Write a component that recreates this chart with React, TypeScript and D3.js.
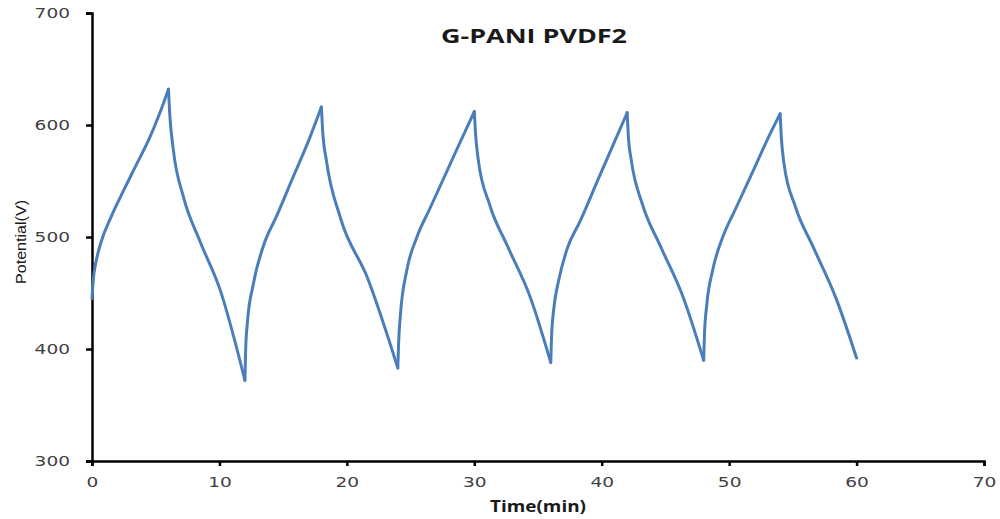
import React, { useRef, useEffect } from 'react';
import * as d3 from 'd3';

// charge / discharge curve, one array per half cycle
const charge1 = [[0, 445], [0.1, 462], [0.3, 477], [0.7, 495], [1.5, 518], [2.5, 542], [3.5, 565], [4.5, 588], [5.3, 610], [6.0, 632]];
const discharge1 = [[6.0, 632], [6.1, 610], [6.38, 578], [7.17, 536], [8.48, 496], [10.05, 453], [12.0, 372]];
const charge2 = [[12.0, 372], [12.06, 400], [12.19, 423], [12.66, 458], [13.45, 492], [14.5, 519], [15.8, 554], [17.0, 586], [18.0, 616]];
const discharge2 = [[18.0, 616], [18.1, 595], [18.4, 568], [19.5, 517], [21.6, 464], [24.0, 383]];
const charge3 = [[24.0, 383], [24.06, 405], [24.2, 430], [24.7, 470], [25.5, 500], [26.5, 525], [27.5, 550], [28.5, 575], [30.0, 612]];
const discharge3 = [[30.0, 612], [30.1, 592], [30.3, 570], [31.2, 529], [32.6, 492], [34.4, 446], [36.0, 388]];
const charge4 = [[36.0, 388], [36.06, 410], [36.25, 437], [36.6, 460], [37.3, 490], [38.3, 514], [39.7, 551], [41.0, 585], [42.0, 611]];
const discharge4 = [[42.0, 611], [42.1, 588], [42.3, 570], [43.2, 529], [44.6, 492], [46.4, 446], [48.0, 390]];
const charge5 = [[48.0, 390], [48.06, 412], [48.25, 440], [48.7, 470], [49.5, 500], [50.5, 525], [52.0, 562], [53.0, 587], [54.0, 610]];
const discharge5 = [[54.0, 610], [54.1, 588], [54.3, 566], [55.2, 527], [56.6, 491], [58.4, 445], [60.0, 392]];

const segments = [charge1, discharge1, charge2, discharge2, charge3, discharge3, charge4, discharge4, charge5, discharge5];

const xTicks = [0, 10, 20, 30, 40, 50, 60, 70];
const yTicks = [300, 400, 500, 600, 700];

const App: React.FC = () => {
    const svgRef = useRef<SVGSVGElement | null>(null);

    useEffect(() => {
        if (!svgRef.current) return;
        const width = 1000;
        const height = 519;

        const svg = d3.select(svgRef.current)
            .attr('width', width)
            .attr('height', height);
        svg.selectAll('*').remove();

        const x = d3.scaleLinear().domain([0, 70]).range([92, 984]);
        const y = d3.scaleLinear().domain([300, 700]).range([461, 13]);

        const tickFont = '"DejaVu Sans", Verdana, sans-serif';

        // the picture is stretched sideways, so labels get a fixed width per character
        const styleTicks = (sel: d3.Selection<d3.BaseType, unknown, SVGGElement, unknown>) => {
            sel.attr('fill', '#404040')
                .style('font-family', tickFont)
                .style('font-size', '14.5px')
                .each(function () {
                    const t = d3.select(this);
                    const n = (t.text() || '').length;
                    t.attr('textLength', n * 11.8).attr('lengthAdjust', 'spacingAndGlyphs');
                });
        };

        // y axis
        const yAxis = svg.append('g')
            .attr('transform', `translate(${x(0)},0)`)
            .call(d3.axisLeft(y).tickValues(yTicks).tickSize(6).tickPadding(16).tickFormat(d => String(d)));
        yAxis.select('.domain').attr('stroke', '#000').attr('stroke-width', 2.5);
        yAxis.selectAll('.tick line').attr('stroke', '#000').attr('stroke-width', 2.5);
        styleTicks(yAxis.selectAll('text'));

        // x axis
        const xAxis = svg.append('g')
            .attr('transform', `translate(0,${y(300)})`)
            .call(d3.axisBottom(x).tickValues(xTicks).tickSize(5).tickPadding(11).tickFormat(d => String(d)));
        xAxis.select('.domain').attr('stroke', '#000').attr('stroke-width', 2.5);
        xAxis.selectAll('.tick line').attr('stroke', '#000').attr('stroke-width', 2.5);
        styleTicks(xAxis.selectAll('text'));

        // data line, each half cycle smoothed separately to keep the sharp corners
        const line = d3.line<number[]>()
            .x(d => x(d[0]))
            .y(d => y(d[1]))
            .curve(d3.curveMonotoneX);

        svg.append('g')
            .selectAll('path')
            .data(segments)
            .enter().append('path')
            .attr('d', d => line(d) || '')
            .attr('fill', 'none')
            .attr('stroke', '#4a7ebb')
            .attr('stroke-width', 3)
            .attr('stroke-linejoin', 'round')
            .attr('stroke-linecap', 'round');

        // title
        svg.append('text')
            .attr('x', 534)
            .attr('y', 43)
            .attr('text-anchor', 'middle')
            .attr('fill', '#1a1a1a')
            .attr('textLength', 186)
            .attr('lengthAdjust', 'spacingAndGlyphs')
            .style('font-family', '"Open Sans", "Liberation Sans", sans-serif')
            .style('font-weight', 'bold')
            .style('font-size', '20px')
            .text('G-PANI PVDF2');

        // axis titles
        svg.append('text')
            .attr('x', 538)
            .attr('y', 512)
            .attr('text-anchor', 'middle')
            .attr('fill', '#1a1a1a')
            .attr('textLength', 96)
            .attr('lengthAdjust', 'spacingAndGlyphs')
            .style('font-family', '"Open Sans", "Liberation Sans", sans-serif')
            .style('font-weight', 'bold')
            .style('font-size', '16px')
            .text('Time(min)');

        svg.append('text')
            .attr('transform', 'translate(26,242) rotate(-90)')
            .attr('text-anchor', 'middle')
            .attr('fill', '#1a1a1a')
            .attr('textLength', 84)
            .attr('lengthAdjust', 'spacingAndGlyphs')
            .style('font-family', '"Liberation Sans Narrow", "Liberation Sans", sans-serif')
            .style('font-size', '15px')
            .text('Potential(V)');
    }, []);

    return (
        <svg ref={svgRef} style={{ position: 'absolute', left: 0, top: 0, background: '#fff' }}></svg>
    );
};

export default App;
